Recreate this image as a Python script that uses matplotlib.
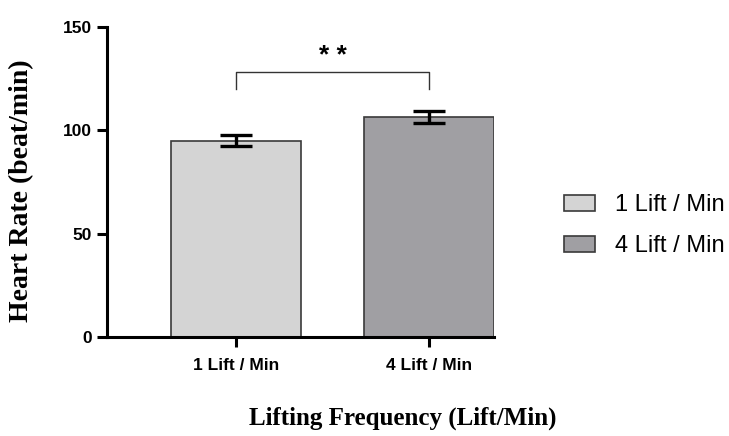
import numpy as np
import matplotlib.pyplot as plt
from matplotlib.patches import Patch

# Data
groups = ["1 Lift / Min", "4 Lift / Min"]
heart_rate = [95.0, 106.5]
heart_rate_err = [2.7, 3.0]
bar_colors = ["#d4d4d4", "#a09fa3"]
sig_label = "* *"
sig_y = 128
sig_leg = 120

fig = plt.figure(figsize=(7.29, 4.36), dpi=100)
ax = fig.add_axes([0.1468, 0.227, 0.531, 0.711])

x = np.arange(len(groups))
ax.bar(x, heart_rate, width=0.67, color=bar_colors, edgecolor="#3a3a3a", linewidth=1.2)
ax.errorbar(x, heart_rate, yerr=heart_rate_err, fmt="none", ecolor="black",
            elinewidth=2.4, capsize=11.5, capthick=2.4)

# significance bracket
ax.plot([x[0], x[0], x[1], x[1]], [sig_leg, sig_y, sig_y, sig_leg], color="#333333", lw=1.0)
ax.text((x[0] + x[1]) / 2, sig_y + 2, sig_label, ha="center", va="bottom",
        fontsize=19, fontweight="bold", family="Liberation Sans")

ax.set_xlim(-0.665, 1.335)
ax.set_ylim(0, 150)
ax.set_yticks([0, 50, 100, 150])
ax.set_xticks(x)
ax.set_xticklabels(groups)
for lab in ax.get_xticklabels() + ax.get_yticklabels():
    lab.set_family("Liberation Sans")
    lab.set_fontweight("bold")
    lab.set_fontsize(12.5)

ax.spines["top"].set_visible(False)
ax.spines["right"].set_visible(False)
ax.spines["left"].set_linewidth(2.2)
ax.spines["bottom"].set_linewidth(2.2)
ax.tick_params(width=2.2, length=7, pad=4)
ax.tick_params(axis="x", pad=8)

fig.text(0.030, 0.562, "Heart Rate (beat/min)", rotation=90, ha="center", va="center",
         family="Liberation Serif", fontweight="bold", fontsize=20)
fig.text(0.553, 0.040, "Lifting Frequency (Lift/Min)", ha="center", va="center",
         family="Liberation Serif", fontweight="bold", fontsize=18)

handles = [Patch(facecolor=c, edgecolor="#3a3a3a", linewidth=1.2) for c in bar_colors]
fig.legend(handles, groups, loc="center left", bbox_to_anchor=(0.751, 0.482),
           frameon=False, prop={"family": "Liberation Sans", "size": 17},
           handlelength=1.3, handleheight=0.65, labelspacing=0.8, handletextpad=0.85,
           borderpad=0.2)

fig.savefig("out.png", dpi=100)
